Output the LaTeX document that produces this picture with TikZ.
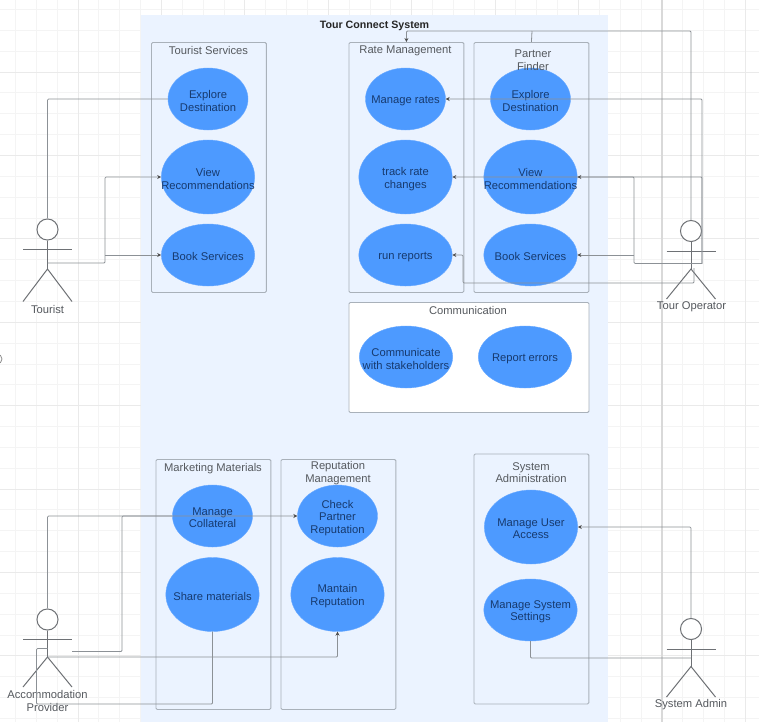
\documentclass[tikz,border=0pt]{standalone}
\usepackage{fontspec}
\setmainfont{Liberation Sans}
\usetikzlibrary{shapes.geometric,arrows.meta}
\definecolor{panelblue}{HTML}{EBF3FF}
\definecolor{ucblue}{HTML}{4D9AFF}
\definecolor{uctext}{HTML}{173A6E}
\definecolor{linegrey}{HTML}{8C9196}
\definecolor{boxgrey}{HTML}{A9B1BA}
\definecolor{titlegrey}{HTML}{55595E}
\definecolor{gridminor}{HTML}{F4F4F4}
\definecolor{gridmajor}{HTML}{EAEAEA}
\definecolor{actorgrey}{HTML}{6E7175}
\tikzset{
  x=0.75pt,y=-0.75pt,
  usecase/.style={ellipse,fill=ucblue,draw=ucblue!85!white,line width=0.3pt,inner sep=0pt},
  uctitle/.style={inner sep=0pt,align=center,text=uctext,font=\fontsize{8.4}{9.5}\selectfont},
  ucA/.style={usecase,minimum width=60pt,minimum height=46.5pt},
  ucB/.style={usecase,minimum width=70pt,minimum height=55.5pt},
  ucC/.style={usecase,minimum width=70pt,minimum height=46.5pt},
  groupbox/.style={rectangle,draw=boxgrey,line width=0.7pt,rounded corners=1pt,inner sep=0pt,anchor=north west},
  grouptitle/.style={text=titlegrey,align=center,inner sep=0pt,font=\fontsize{8.4}{9.5}\selectfont},
  actorlabel/.style={text=titlegrey,align=center,inner sep=0pt,font=\fontsize{8.4}{9.5}\selectfont},
  actorline/.style={draw=actorgrey,line width=0.75pt},
  conn/.style={draw=linegrey,line width=0.6pt,rounded corners=0.8pt},
  arr/.style={conn,-{Stealth[length=3pt,width=3pt,color=black!70]}},
}
% name, x, head centre y, hip offset, foot offset
\newcommand{\stickman}[5]{%
  \node[circle,draw=actorgrey,line width=0.75pt,fill=white,minimum size=15.8pt,inner sep=0pt] (#1) at (#2,#3) {};
  \draw[actorline] (#1.south) -- (#2,#3+#4) coordinate (#1-hip);
  \draw[actorline] (#2-24.5,#3+20) -- (#2+24.5,#3+20);
  \draw[actorline] (#2-24.5,#3+#5) -- (#1-hip) -- (#2+24.5,#3+#5);
}
% style, name, x, y, text
\newcommand{\usecasenode}[5]{%
  \node[#1] (#2) at (#3,#4) {};
  \node[uctitle] (#2-t) at (#3,#4+1.8) {#5};
}
\begin{document}
\begin{tikzpicture}
\useasboundingbox (0,0) rectangle (759,722);
\clip (0,0) rectangle (759,722);
\fill[white] (0,0) rectangle (759,722);
% background grid
\foreach \k in {-4,...,32}{
  \draw[gridminor,line width=0.6pt] ({78+20.85*\k},0) -- ({78+20.85*\k},722);
  \draw[gridminor,line width=0.6pt] (0,{72+20.85*\k}) -- (759,{72+20.85*\k});
}
\foreach \k in {-1,...,8}{
  \draw[gridmajor,line width=0.7pt] ({78+83.4*\k},0) -- ({78+83.4*\k},722);
  \draw[gridmajor,line width=0.7pt] (0,{72+83.4*\k}) -- (759,{72+83.4*\k});
}
\draw[black!15,line width=1pt] (662,0) -- (662,722);
\draw[black!45,line width=0.6pt] (-3,359) circle[radius=5];
% system panel
\fill[panelblue] (141,15) rectangle (608,722);
\node[inner sep=0pt,text=black!85,font=\fontsize{8}{9.5}\selectfont\bfseries] (systitle) at (374.5,25.5) {Tour Connect System};
% groups
\node[groupbox,minimum width=86.2pt,minimum height=187.5pt] (tsbox) at (151,42) {};
\node[groupbox,minimum width=86.2pt,minimum height=187.5pt] (rmbox) at (348.5,42) {};
\node[groupbox,minimum width=86.2pt,minimum height=187.5pt] (pfbox) at (473.5,42) {};
\node[groupbox,fill=white,minimum width=180pt,minimum height=82.5pt] (cobox) at (348.5,302) {};
\node[groupbox,minimum width=86.2pt,minimum height=187.5pt] (mmbox) at (155.5,459) {};
\node[groupbox,minimum width=86.2pt,minimum height=187.5pt] (rpbox) at (280.5,459) {};
\node[groupbox,minimum width=86.2pt,minimum height=187.5pt] (sabox) at (473.5,453.5) {};
% use cases
\usecasenode{ucA}{ts1}{208}{99}{Explore\\Destination}
\usecasenode{ucB}{ts2}{208}{177}{View\\Recommendations}
\usecasenode{ucC}{ts3}{208}{255}{Book Services}
\usecasenode{ucA}{rm1}{405.5}{99}{Manage rates}
\usecasenode{ucB}{rm2}{405.5}{177}{track rate\\changes}
\usecasenode{ucC}{rm3}{405.5}{255}{run reports}
\usecasenode{ucA}{pf1}{530.5}{99}{Explore\\Destination}
\usecasenode{ucB}{pf2}{530.5}{177}{View\\Recommendations}
\usecasenode{ucC}{pf3}{530.5}{255}{Book Services}
\usecasenode{ucC}{co1}{406}{357}{Communicate\\with stakeholders}
\usecasenode{ucC}{co2}{525}{357}{Report errors}
\usecasenode{ucA}{mm1}{212.5}{516}{Manage\\Collateral}
\usecasenode{ucB}{mm2}{212.5}{594.5}{Share materials}
\usecasenode{ucA}{rp1}{337.5}{516}{Check\\Partner\\Reputation}
\usecasenode{ucB}{rp2}{337.5}{594.5}{Mantain\\Reputation}
\usecasenode{ucB}{sa1}{531}{527}{Manage User\\Access}
\usecasenode{ucC}{sa2}{530.5}{610}{Manage System\\Settings}
% group titles
\node[grouptitle] (tst) at (208.5,50.5) {Tourist Services};
\node[grouptitle] (rmt) at (405.5,51) {Rate Management};
\node[grouptitle] (pft) at (533,60.5) {Partner\\Finder};
\node[grouptitle] (cot) at (468,310.5) {Communication};
\node[grouptitle] (mmt) at (213,468.5) {Marketing Materials};
\node[grouptitle] (rpt) at (338,473) {Reputation\\Management};
\node[grouptitle] (sat) at (531,472.5) {System\\Administration};
% actors
\stickman{tourist}{47.5}{229.5}{39.5}{72}
\stickman{tourop}{691}{231}{38}{68}
\stickman{accom}{47.5}{619.5}{37.5}{67.5}
\stickman{sysadm}{691}{629}{37.5}{68}
\node[actorlabel] (tourist-l) at (47.5,309) {Tourist};
\node[actorlabel] (tourop-l) at (691.5,307) {Tour Operator};
\node[actorlabel] (accom-l) at (47.5,701) {Accommodation\\Provider};
\node[actorlabel] (sysadm-l) at (691,704.5) {System Admin};
% junction coordinates
\coordinate (tsrc) at (47.5,263);
\coordinate (tbus) at (105,220);
\coordinate (oc) at (702,263.5);
\coordinate (od) at (634,220);
\coordinate (oe) at (694,268);
\coordinate (of) at (463,283);
\coordinate (ty) at (532,31);
\coordinate (asrc) at (72,651.5);
\coordinate (abus) at (122,600);
\coordinate (ahip) at (47.5,657);
\coordinate (acorn) at (36.5,704);
\coordinate (abody) at (47.5,648.5);
\coordinate (ssrc) at (691,658);
% tourist connectors
\draw[conn] (tourist.north) |- (ts1.west);
\draw[arr] (tsrc) -| (tbus) |- (ts2.west);
\draw[arr] (tbus |- ts3.west) -- (ts3.west);
% tour operator connectors
\draw[arr] (tourop.north) |- (ty) -| (rmbox.north);
\draw[conn] (pfbox.north) -- (ty);
\draw[arr] (oc) |- (rm1.east);
\draw[arr] (oc) |- (rm2.east);
\draw[arr] (oc) -| (od) |- (pf2.east);
\draw[arr] (od |- pf3.east) -- (pf3.east);
\draw[arr] (oe) |- (of) |- (rm3.east);
% accommodation connectors
\draw[conn] (accom.north) |- (mm1.west);
\draw[arr] (asrc) -| (abus) |- (rp1.west);
\draw[arr] (ahip) -| (rp2.south);
\draw[conn] (mm2.south) |- (acorn) |- (abody);
% system admin connectors
\draw[arr] (sysadm.north) |- (sa1.east);
\draw[conn] (sa2.south) |- (ssrc);
\end{tikzpicture}
\end{document}
